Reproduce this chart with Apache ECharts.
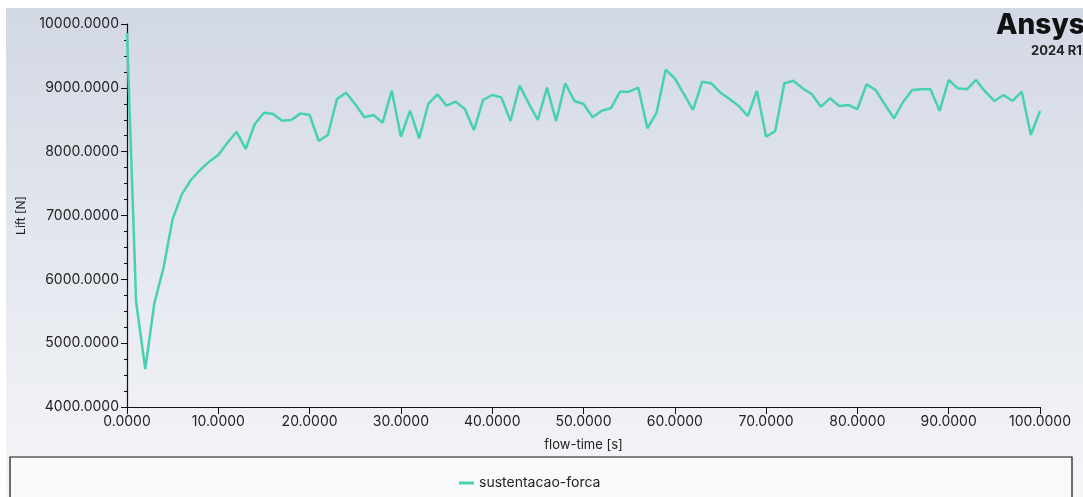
<!DOCTYPE html>
<html>
<head>
<meta charset="utf-8">
<script src="https://cdn.jsdelivr.net/npm/echarts@6/dist/echarts.min.js"></script>
<style>
  html, body { margin: 0; padding: 0; background: #fff; }
  #chart { width: 1083px; height: 497px; }
</style>
</head>
<body>
<div id="chart"></div>
<script>
// flow-time [s], one sample per second
const flowTime = Array.from({ length: 101 }, (_, i) => i);
const lift = [
  9860, 5645, 4595, 5630, 6180, 6945, 7330, 7556, 7713, 7843,
  7948, 8140, 8313, 8042, 8433, 8611, 8590, 8485, 8496, 8600,
  8574, 8167, 8261, 8825, 8924, 8742, 8538, 8574, 8454, 8955,
  8234, 8642, 8209, 8747, 8898, 8720, 8783, 8668, 8339, 8809,
  8888, 8851, 8480, 9034, 8757, 8496, 9003, 8480, 9071, 8794,
  8747, 8538, 8642, 8679, 8940, 8940, 9003, 8366, 8611, 9285,
  9149, 8903, 8653, 9096, 9071, 8924, 8825, 8715, 8559, 8955,
  8234, 8324, 9071, 9112, 8992, 8903, 8705, 8836, 8715, 8731,
  8668, 9055, 8966, 8742, 8523, 8778, 8966, 8977, 8977, 8640,
  9123, 8992, 8977, 9123, 8940, 8794, 8888, 8794, 8940, 8261,
  8637
];
const seriesName = "sustentacao-forca";

const font = "Inter, 'Noto Sans', sans-serif";
const chart = echarts.init(document.getElementById("chart"));
chart.setOption({
  animation: false,
  graphic: [
    { type: "rect", z: -10, shape: { x: 6, y: 8, width: 1077, height: 489 },
      style: { fill: new echarts.graphic.LinearGradient(0, 0, 0, 1, [
        { offset: 0, color: "#d2d8e4" }, { offset: 1, color: "#f5f6f8" }]) } },
    { type: "rect", z: -5, shape: { x: 10, y: 457, width: 1062, height: 60 },
      style: { fill: "#f8f9fa", stroke: "#111", lineWidth: 1.2 } },
    { type: "text", left: 996, top: 12,
      style: { text: "Ansys", font: "800 28px " + font, fill: "#111" } },
    { type: "text", left: 1031, top: 45,
      style: { text: "2024 R1", font: "bold 13px " + font, fill: "#222" } }
  ],
  legend: {
    top: 471, left: 454,
    itemWidth: 15, itemHeight: 3, itemGap: 6,
    icon: "rect",
    textStyle: { fontFamily: font, fontSize: 14, color: "#222" },
    data: [seriesName]
  },
  grid: { left: 127, right: 43, top: 24, bottom: 90 },
  xAxis: {
    type: "value", min: 0, max: 100, interval: 10,
    name: "flow-time [s]", nameLocation: "middle", nameGap: 32,
    nameTextStyle: { fontFamily: font, fontSize: 13, color: "#222" },
    axisLine: { lineStyle: { color: "#111", width: 1.2 } },
    axisTick: { length: 7, lineStyle: { color: "#111" } },
    axisLabel: { fontFamily: font, fontSize: 14, color: "#222", margin: 8,
      formatter: v => v.toFixed(4) },
    splitLine: { show: false }
  },
  yAxis: {
    type: "value", min: 4000, max: 10000, interval: 1000,
    name: "Lift [N]", nameLocation: "middle", nameGap: 100, nameRotate: 90,
    nameTextStyle: { fontFamily: font, fontSize: 12, color: "#222" },
    axisLine: { show: true, lineStyle: { color: "#111", width: 1.2 } },
    axisTick: { show: true, length: 6, lineStyle: { color: "#111" } },
    minorTick: { show: true, splitNumber: 4, length: 3, lineStyle: { color: "#111" } },
    axisLabel: { fontFamily: font, fontSize: 14, color: "#222", margin: 8,
      formatter: v => v.toFixed(4) },
    splitLine: { show: false }
  },
  series: [{
    name: seriesName,
    type: "line",
    data: flowTime.map((t, i) => [t, lift[i]]),
    showSymbol: false,
    color: "#48d1b1",
    lineStyle: { width: 2.5, color: "#48d1b1" }
  }]
});
</script>
</body>
</html>
